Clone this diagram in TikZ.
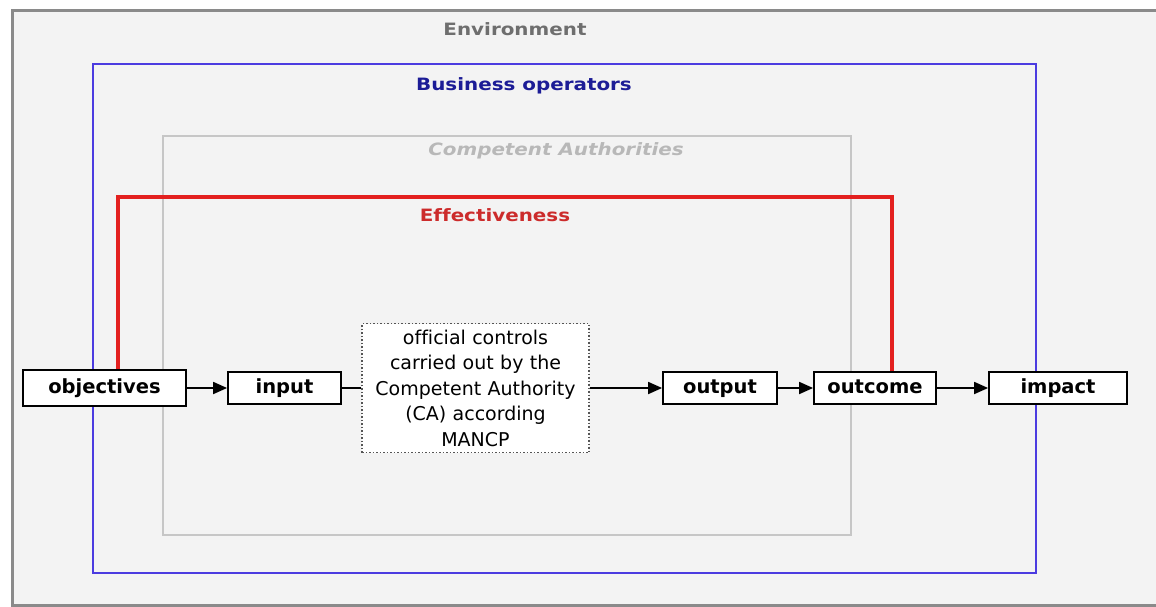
\documentclass[tikz,border=0pt]{standalone}
\usepackage{fontspec}
\setmainfont{DejaVu Sans}[Ligatures=NoCommon]
\newfontfamily\titlefont{DejaVu Sans}[FakeStretch=1.17,Ligatures=NoCommon]
\usetikzlibrary{arrows.meta}
\definecolor{bgc}{HTML}{F3F3F3}
\definecolor{framec}{HTML}{8A8A8A}
\definecolor{envgray}{HTML}{6E6E6E}
\definecolor{boptext}{HTML}{1C1C96}
\definecolor{bopline}{HTML}{4B3BE0}
\definecolor{catext}{HTML}{B8B8B8}
\definecolor{caline}{HTML}{C6C6C6}
\definecolor{efftext}{HTML}{CC2B2B}
\definecolor{effline}{HTML}{E3201F}
\definecolor{dotc}{HTML}{555555}
\tikzset{
  x=1pt, y=-1pt,
  stagebox/.style={draw=black, line width=1.8pt, fill=white, inner sep=0pt,
    text height=14.5pt, text depth=4pt,
    minimum height=32pt, font=\fontsize{19.5}{22}\selectfont\bfseries},
  caption/.style={inner sep=0pt, font=\titlefont\fontsize{17}{20}\selectfont\bfseries},
  flow/.style={draw=black, line width=1.8pt, -{Triangle[length=14pt,width=12pt]}},
  plain/.style={draw=black, line width=1.8pt}
}
\begin{document}
\begin{tikzpicture}
\useasboundingbox (0,0) rectangle (1156,607);
\clip (0,0) rectangle (1156,607);
% environment frame
\fill[bgc] (12,11) rectangle (1170,605);
\draw[framec, line width=3pt] (1170,11) -- (12,11) -- (12,605) -- (1170,605);
% business operators frame
\draw[bopline, line width=2pt] (93,64) rectangle (1036,573);
% competent authorities frame
\draw[caline, line width=2pt] (163,136) rectangle (851,535);
% captions
\node[caption, text=envgray] (env) at (515,29) {Environment};
\node[caption, text=boptext] (bop) at (524,86) {Business operators};
\node[caption, text=catext, font=\titlefont\fontsize{17}{20}\selectfont\bfseries\itshape] (ca) at (556,151) {Competent Authorities};
\node[caption, text=efftext] (eff) at (495,215) {Effectiveness};
% stage boxes
\node[stagebox, minimum width=163pt, minimum height=36pt] (obj) at (104.5,388) {objectives};
\node[stagebox, minimum width=113pt] (inp) at (284.5,388) {input};
\node[draw=dotc, dotted, line width=1.5pt, fill=white, minimum width=227pt, minimum height=129pt,
      text width=220pt, align=center, inner sep=0pt,
      font=\fontsize{19}{25.5}\selectfont] (ctrl) at (475.5,388)
      {official controls\\carried out by the\\Competent Authority\\(CA) according\\MANCP};
\node[stagebox, minimum width=114pt] (out) at (720,388) {output};
\node[stagebox, minimum width=122pt] (outc) at (875,388) {outcome};
\node[stagebox, minimum width=138pt] (imp) at (1058,388) {impact};
% effectiveness bracket
\coordinate (effL) at (118,197);
\coordinate (effR) at (892,197);
\draw[effline, line width=4pt, line join=miter] (obj.north -| effL) -- (effL) -- (effR) -- (outc.north -| effR);
% connectors
\draw[flow] (obj.east) -- (inp.west);
\draw[plain] (inp.east) -- (ctrl.west);
\draw[flow] (ctrl.east) -- (out.west);
\draw[flow] (out.east) -- (outc.west);
\draw[flow] (outc.east) -- (imp.west);
\end{tikzpicture}
\end{document}
